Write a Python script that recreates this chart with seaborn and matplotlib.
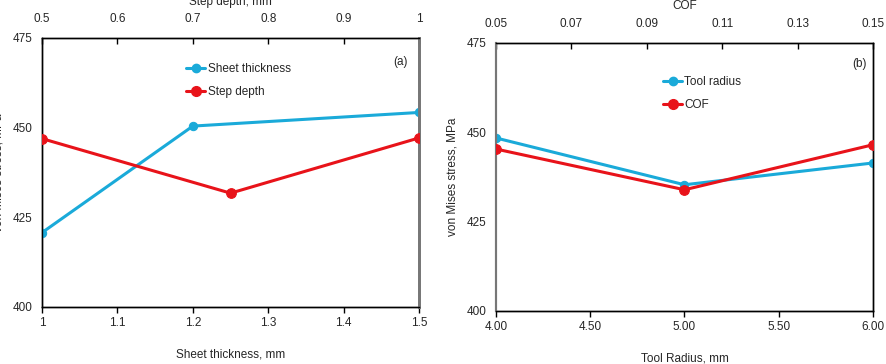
import matplotlib
matplotlib.use("Agg")
import matplotlib.pyplot as plt
import numpy as np
import pandas as pd
import seaborn as sns
from matplotlib.lines import Line2D

# panel (a)
thick_x = [1.0, 1.2, 1.5]
thick_y = [420.7, 450.4, 454.2]
depth_x = [0.5, 0.75, 1.0]
depth_y = [446.9, 431.7, 447.1]
thick_ticks = [1, 1.1, 1.2, 1.3, 1.4, 1.5]
depth_ticks = [0.5, 0.6, 0.7, 0.8, 0.9, 1]

# panel (b)
radius_x = [4.0, 5.0, 6.0]
radius_y = [448.4, 435.3, 441.4]
cof_x = [0.05, 0.10, 0.15]
cof_y = [445.3, 433.9, 446.5]
radius_ticks = [4.0, 4.5, 5.0, 5.5, 6.0]
cof_ticks = [0.05, 0.07, 0.09, 0.11, 0.13, 0.15]

y_ticks = [400, 425, 450, 475]

BLUE = "#1AAAD9"
RED = "#E8131A"

sns.set_style("white")
plt.rcParams["font.family"] = ["Liberation Sans", "DejaVu Sans"]
plt.rcParams["font.size"] = 8.5

fig = plt.figure(figsize=(8.87, 3.64), dpi=100)


def panel(rect, bx, by, tx, ty, bticks, tticks, bfmt, tfmt, blabel, tlabel,
          names, tag, tag_pos, leg_anchor, gray_side, top_pad, top_lpad):
    ax = fig.add_axes(rect)
    top = ax.twiny()
    sns.lineplot(x=bx, y=by, ax=ax, color=BLUE, lw=2.2, marker="o", ms=6,
                 markeredgecolor=BLUE, zorder=3)
    sns.lineplot(x=tx, y=ty, ax=top, color=RED, lw=2.2, marker="o", ms=7,
                 markeredgecolor=RED, zorder=3)
    ax.set_xlim(bticks[0], bticks[-1])
    top.set_xlim(tticks[0], tticks[-1])
    ax.set_ylim(400, 475)
    ax.set_yticks(y_ticks)
    ax.set_xticks(bticks)
    ax.set_xticklabels([bfmt(v) for v in bticks])
    top.set_xticks(tticks)
    top.set_xticklabels([tfmt(v) for v in tticks])
    ax.tick_params(axis="both", direction="out", length=4, width=1, color="black",
                   pad=3, labelsize=8.5)
    top.tick_params(axis="x", direction="in", length=4, width=1, color="black",
                    pad=top_pad, labelsize=8.5)
    for a in (ax, top):
        for side in ("left", "right", "top", "bottom"):
            a.spines[side].set_color("black")
            a.spines[side].set_linewidth(1.0)
    for a in (ax, top):
        a.spines[gray_side].set_color("#777777")
        a.spines[gray_side].set_linewidth(2.0 if gray_side == "right" else 1.5)
    ax.set_xlabel(blabel, fontsize=8.5, labelpad=14)
    top.set_xlabel(tlabel, fontsize=8.5, labelpad=top_lpad)
    ax.set_ylabel("von Mises stress, MPa", fontsize=8.5, labelpad=6)
    handles = [Line2D([], [], color=BLUE, lw=2.2, marker="o", ms=6),
               Line2D([], [], color=RED, lw=2.2, marker="o", ms=7)]
    top.legend(handles, names, loc="upper left", bbox_to_anchor=leg_anchor,
               frameon=False, fontsize=8.5, handlelength=1.6, handletextpad=0.2,
               labelspacing=0.9)
    ax.text(tag_pos[0], tag_pos[1], tag, transform=ax.transAxes, ha="center",
            va="center", fontsize=8.5)
    return ax


panel([0.0474, 0.157, 0.425, 0.739], thick_x, thick_y, depth_x, depth_y,
      thick_ticks, depth_ticks, lambda v: f"{v:g}", lambda v: f"{v:g}",
      "Sheet thickness, mm", "Step depth, mm",
      ["Sheet thickness", "Step depth"], "(a)", (0.95, 0.91), (0.355, 0.945),
      "right", 9, 6)

panel([0.5592, 0.146, 0.425, 0.736], radius_x, radius_y, cof_x, cof_y,
      radius_ticks, cof_ticks, lambda v: f"{v:.2f}", lambda v: f"{v:.2f}",
      "Tool Radius, mm", "COF",
      ["Tool radius", "COF"], "(b)", (0.965, 0.92), (0.415, 0.915),
      "left", 9, 7)

fig.savefig("out.png", dpi=100)
